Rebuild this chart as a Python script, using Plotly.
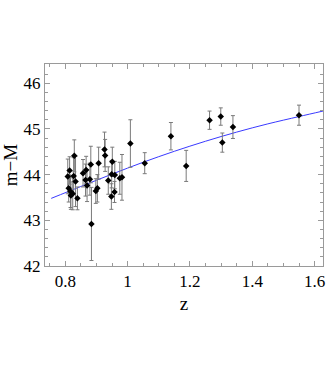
import plotly.graph_objects as go

# supernova data: redshift, distance modulus, 1-sigma error
z = [0.808, 0.811, 0.814, 0.817, 0.818, 0.824, 0.827, 0.829, 0.833, 0.839,
     0.857, 0.865, 0.867, 0.870, 0.879, 0.882, 0.884, 0.898, 0.903, 0.907,
     0.926, 0.928, 0.938, 0.948, 0.949, 0.951, 0.958, 0.959, 0.975, 0.982,
     1.009, 1.055, 1.139, 1.188, 1.263, 1.299, 1.304, 1.338, 1.550]
mu = [43.96, 43.70, 44.09, 43.63, 43.54, 43.58, 43.97, 44.41, 43.85, 43.48,
      44.03, 43.88, 44.10, 43.76, 43.90, 44.22, 42.92, 43.64, 43.70, 44.25,
      44.55, 44.42, 43.87, 43.52, 44.01, 44.28, 43.62, 43.99, 43.92, 43.94,
      44.68, 44.25, 44.84, 44.19, 45.19, 45.27, 44.70, 45.04, 45.30]
mu_err = [0.38, 0.30, 0.30, 0.35, 0.30, 0.35, 0.40, 0.35, 0.55, 0.25,
          0.30, 0.35, 0.30, 0.35, 0.35, 0.40, 0.80, 0.27, 0.30, 0.35,
          0.38, 0.35, 0.30, 0.28, 0.30, 0.32, 0.23, 0.30, 0.35, 0.50,
          0.52, 0.23, 0.30, 0.34, 0.20, 0.19, 0.21, 0.25, 0.22]

# model curve
z_fit = [0.755, 0.85, 0.95, 1.05, 1.15, 1.25, 1.35, 1.45, 1.55, 1.627]
mu_fit = [43.48, 43.74, 44.01, 44.27, 44.51, 44.73, 44.93, 45.11, 45.27, 45.39]

x_ticks = [0.8, 1.0, 1.2, 1.4, 1.6]
x_labels = ["0.8", "1", "1.2", "1.4", "1.6"]
y_ticks = [42, 43, 44, 45, 46]

SERIF = "Liberation Serif"

fig = go.Figure()

fig.add_trace(go.Scatter(
    x=z_fit, y=mu_fit, mode='lines', line_shape='spline',
    line=dict(color='#3a3aff', width=1),
    showlegend=False
))

fig.add_trace(go.Scatter(
    x=z, y=mu, mode='markers',
    marker=dict(color='black', size=5, symbol='diamond'),
    error_y=dict(type='data', array=mu_err, color='#7a7a7a', thickness=1, width=2),
    showlegend=False
))

axis_common = dict(
    showline=True, linecolor='#9a9a9a', linewidth=1, mirror='allticks',
    ticks='inside', ticklen=5, tickcolor='#9a9a9a', tickwidth=1,
    showgrid=False, zeroline=False, automargin=False,
    ticklabeloverflow='allow',
    tickfont=dict(family=SERIF, size=17, color='black'),
)

fig.update_layout(
    width=327, height=382,
    margin=dict(l=45, r=4, t=64, b=116),
    plot_bgcolor='white', paper_bgcolor='white',
    font=dict(family=SERIF),
    xaxis=dict(
        range=[0.735, 1.627], tickvals=x_ticks, ticktext=x_labels,
        minor=dict(dtick=0.05, ticks='inside', ticklen=3, tickcolor='#9a9a9a'),
        title=dict(text='z', font=dict(family=SERIF, size=19, color='black'), standoff=6),
        **axis_common
    ),
    yaxis=dict(
        range=[42, 46.42], tickvals=y_ticks,
        minor=dict(dtick=0.2, ticks='inside', ticklen=3, tickcolor='#9a9a9a'),
        title=dict(text='m\u2212M', font=dict(family=SERIF, size=19, color='black'), standoff=4),
        **axis_common
    ),
)

# the page's default body margin would push the figure 8px off the window
fig.write_html("out.html", config={'displayModeBar': False},
               post_script="document.body.style.margin='0';")
